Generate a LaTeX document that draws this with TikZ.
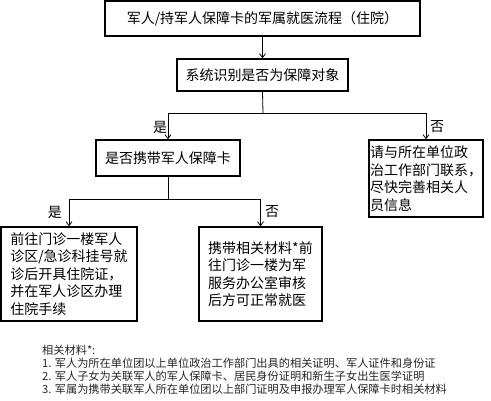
\documentclass[tikz,border=0pt]{standalone}
\usepackage{fontspec}
\setmainfont{Noto Sans CJK SC}
\usetikzlibrary{arrows.meta}
\begin{document}
\begin{tikzpicture}[x=1pt,y=-1pt,
  box/.style={draw=black,line width=1.4pt,inner sep=0pt,font=\fontsize{14}{17.5}\selectfont},
  arr/.style={-{Straight Barb[length=4pt,width=6pt]},line width=0.8pt},
  ln/.style={line width=0.8pt},
  lbl/.style={font=\fontsize{14}{17}\selectfont,inner sep=0pt},
  note/.style={font=\fontsize{11.2}{13}\selectfont,anchor=west,inner sep=0pt,text=black!85}]
\useasboundingbox (0,0) rectangle (491,400);
\node[box,minimum width=315pt,minimum height=35pt] (t) at (262.5,18.5) {军人/持军人保障卡的军属就医流程（住院）};
\node[box,minimum width=171pt,minimum height=32pt] (s) at (262.5,75) {系统识别是否为保障对象};
\node[box,minimum width=144pt,minimum height=36pt] (c) at (168,158) {是否携带军人保障卡};
\node[box,minimum width=114pt,minimum height=77pt,align=left] (r) at (426,178.5) {请与所在单位政\\治工作部门联系，\\尽快完善相关人\\员信息};
\node[box,minimum width=136pt,minimum height=94pt,align=left] (l) at (69,274) {前往门诊一楼军人\\诊区/急诊科挂号就\\诊后开具住院证，\\并在军人诊区办理\\住院手续};
\node[box,minimum width=123pt,minimum height=94pt,align=left] (m) at (260.5,274) {携带相关材料*前\\往门诊一楼为军\\服务办公室审核\\后方可正常就医};
\coordinate (j1) at (263,113);
\coordinate (j2) at (168,199);
\draw[arr] (t.south) -- (s.north);
\draw[ln] (s.south) -- (j1);
\draw[arr] (j1) -| (c.north);
\draw[arr] (j1) -| (r.north);
\draw[ln] (c.south) -- (j2);
\draw[arr] (j2) -| (l.north);
\draw[arr] (j2) -| (m.north);
\node[lbl] (y1) at (160,127) {是};
\node[lbl] (n1) at (437,127) {否};
\node[lbl] (y2) at (55,212) {是};
\node[lbl] (n2) at (272,212) {否};
\node[note] (f0) at (42,350) {相关材料*:};
\node[note] (f1) at (42,363) {1. 军人为所在单位团以上单位政治工作部门出具的相关证明、军人证件和身份证};
\node[note] (f2) at (42,376) {2. 军人子女为关联军人的军人保障卡、居民身份证明和新生子女出生医学证明};
\node[note] (f3) at (42,389) {3. 军属为携带关联军人所在单位团以上部门证明及申报办理军人保障卡时相关材料};
\end{tikzpicture}
\end{document}
